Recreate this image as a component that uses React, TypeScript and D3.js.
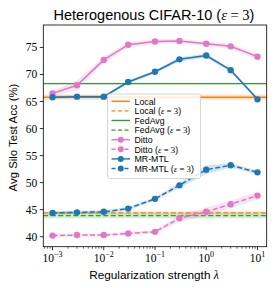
import React from "react";
import * as d3 from "d3";

const lambdas = [1e-3, 3e-3, 1e-2, 3e-2, 1e-1, 3e-1, 1, 3, 10];
const dittoMean = [66.5, 68.0, 72.7, 75.5, 76.1, 76.2, 75.7, 75.2, 73.3];
const dittoStd = [0.5, 0.9, 0.6, 0.5, 0.4, 0.4, 0.4, 0.5, 0.5];
const mrmtlMean = [65.8, 65.9, 65.9, 68.6, 70.5, 72.8, 73.5, 70.8, 65.4];
const mrmtlStd = [0.3, 0.3, 0.3, 0.3, 0.3, 0.4, 0.4, 0.3, 0.3];
const dittoEpsMean = [40.2, 40.3, 40.3, 40.6, 40.9, 43.4, 44.6, 46.0, 47.6];
const dittoEpsStd = [0.3, 0.3, 0.3, 0.3, 0.3, 0.6, 0.8, 0.7, 0.7];
const mrmtlEpsMean = [44.4, 44.5, 44.6, 45.2, 47.0, 49.5, 52.4, 53.2, 51.9];
const mrmtlEpsStd = [0.3, 0.3, 0.3, 0.3, 0.3, 0.5, 0.8, 0.4, 0.4];
const localVal = 65.8, localStd = 0.5;
const localEpsVal = 44.4, localEpsStd = 0.3;
const fedavgVal = 68.3, fedavgStd = 0.1;
const fedavgEpsVal = 43.9, fedavgEpsStd = 0.5;
const yTicks = [40, 45, 50, 55, 60, 65, 70, 75];
const xTicks = [1e-3, 1e-2, 1e-1, 1, 10];
const xTickExp = ["−3", "−2", "−1", "0", "1"];

const C = { orange: "#ff7f0e", green: "#2ca02c", pink: "#e377c2", blue: "#1f77b4" };

export default function App() {
  const L = 43.3, R = 266.7, T = 25, B = 246.7;
  const x = d3.scaleLog().domain([Math.pow(10, -3.18), Math.pow(10, 1.18)]).range([L, R]);
  const y = d3.scaleLinear().domain([38.15, 79.15]).range([B, T]);
  const line = d3.line<number>().x((_, i) => x(lambdas[i])).y((d) => y(d));
  const area = (m: number[], s: number[]) =>
    d3.area<number>().x((_, i) => x(lambdas[i])).y0((d, i) => y(d - s[i])).y1((d, i) => y(d + s[i]))(m) as string;

  const minor: number[] = [];
  for (let e = -4; e <= 1; e++) for (let k = 2; k <= 9; k++) {
    const v = k * Math.pow(10, e);
    if (x(v) >= L && x(v) <= R) minor.push(v);
  }

  const series = [
    { m: dittoMean, s: dittoStd, c: C.pink, dash: "" },
    { m: mrmtlMean, s: mrmtlStd, c: C.blue, dash: "" },
    { m: dittoEpsMean, s: dittoEpsStd, c: C.pink, dash: "5,2.5" },
    { m: mrmtlEpsMean, s: mrmtlEpsStd, c: C.blue, dash: "5,2.5" },
  ];
  const hlines = [
    { v: localVal, s: localStd, c: C.orange, dash: "" },
    { v: fedavgVal, s: fedavgStd, c: C.green, dash: "" },
    { v: localEpsVal, s: localEpsStd, c: C.orange, dash: "5,2.5" },
    { v: fedavgEpsVal, s: fedavgEpsStd, c: C.green, dash: "5,2.5" },
  ];
  const legend = [
    { label: "Local", eps: false, c: C.orange, dash: "", mk: false },
    { label: "Local", eps: true, c: C.orange, dash: "4,2.5", mk: false },
    { label: "FedAvg", eps: false, c: C.green, dash: "", mk: false },
    { label: "FedAvg", eps: true, c: C.green, dash: "4,2.5", mk: false },
    { label: "Ditto", eps: false, c: C.pink, dash: "", mk: true },
    { label: "Ditto", eps: true, c: C.pink, dash: "4,2.5", mk: true },
    { label: "MR-MTL", eps: false, c: C.blue, dash: "", mk: true },
    { label: "MR-MTL", eps: true, c: C.blue, dash: "4,2.5", mk: true },
  ];
  const sans = "'Liberation Sans', Arial, sans-serif";
  const serif = "'Liberation Serif', 'Times New Roman', serif";

  return (
    <svg width={274} height={288} style={{ position: "absolute", left: 0, top: 0, background: "#fff" }}>
      <defs>
        <clipPath id="pc"><rect x={L} y={T} width={R - L} height={B - T} /></clipPath>
      </defs>
      <text x={154} y={20} textAnchor="middle" fontFamily={sans} fontSize={14.5}>
        Heterogenous CIFAR-10 (<tspan fontFamily={serif} fontStyle="italic">ε</tspan>
        <tspan fontFamily={serif}> = 3</tspan>)
      </text>
      <g clipPath="url(#pc)">
        {hlines.map((h, i) => (
          <g key={i}>
            <rect x={L} width={R - L} y={y(h.v + h.s)} height={y(h.v - h.s) - y(h.v + h.s)} fill={h.c} opacity={0.2} />
            <line x1={L} x2={R} y1={y(h.v)} y2={y(h.v)} stroke={h.c} strokeWidth={1.4} strokeDasharray={h.dash} />
          </g>
        ))}
        {series.map((s, i) => (
          <g key={i}>
            <path d={area(s.m, s.s)} fill={s.c} opacity={0.2} />
            <path d={line(s.m) as string} fill="none" stroke={s.c} strokeWidth={1.5} strokeDasharray={s.dash} />
            {s.m.map((v, j) => (
              <circle key={j} cx={x(lambdas[j])} cy={y(v)} r={3.2} fill={s.c} />
            ))}
          </g>
        ))}
      </g>
      <rect x={L} y={T} width={R - L} height={B - T} fill="none" stroke="#000" strokeWidth={0.8} />
      {yTicks.map((t) => (
        <g key={t}>
          <line x1={L - 3.5} x2={L} y1={y(t)} y2={y(t)} stroke="#000" strokeWidth={0.8} />
          <text x={L - 6} y={y(t) + 4} textAnchor="end" fontFamily={serif} fontSize={11.5}>{t}</text>
        </g>
      ))}
      {minor.map((t, i) => (
        <line key={i} x1={x(t)} x2={x(t)} y1={B} y2={B + 2} stroke="#000" strokeWidth={0.6} />
      ))}
      {xTicks.map((t, i) => (
        <g key={t}>
          <line x1={x(t)} x2={x(t)} y1={B} y2={B + 3.5} stroke="#000" strokeWidth={0.8} />
          <text x={x(t)} y={B + 15} textAnchor="middle" fontFamily={serif} fontSize={11.5}>
            10<tspan dy={-5} fontSize={8}>{xTickExp[i]}</tspan>
          </text>
        </g>
      ))}
      <text x={154} y={278.5} textAnchor="middle" fontFamily={sans} fontSize={11.8}>
        Regularization strength <tspan fontFamily={serif} fontStyle="italic">λ</tspan>
      </text>
      <text transform={`translate(17,137.5) rotate(-90)`} textAnchor="middle" fontFamily={sans} fontSize={11.4}>
        Avg Silo Test Acc (%)
      </text>
      <g>
        <rect x={107.5} y={94} width={93} height={84.5} rx={2} fill="#fff" fillOpacity={0.85} stroke="#ccc" strokeWidth={0.8} />
        {legend.map((e, i) => {
          const ly = 101.3 + i * 9.6;
          return (
            <g key={i}>
              <line x1={111.5} x2={130} y1={ly} y2={ly} stroke={e.c} strokeWidth={1.4} strokeDasharray={e.dash} />
              {e.mk && <circle cx={120.75} cy={ly} r={3} fill={e.c} />}
              <text x={134.5} y={ly + 3.2} fontFamily={sans} fontSize={8.8}>
                {e.label}
                {e.eps && (
                  <>
                    {" ("}
                    <tspan fontFamily={serif} fontStyle="italic">ε</tspan>
                    <tspan fontFamily={serif}> = 3</tspan>)
                  </>
                )}
              </text>
            </g>
          );
        })}
      </g>
    </svg>
  );
}
